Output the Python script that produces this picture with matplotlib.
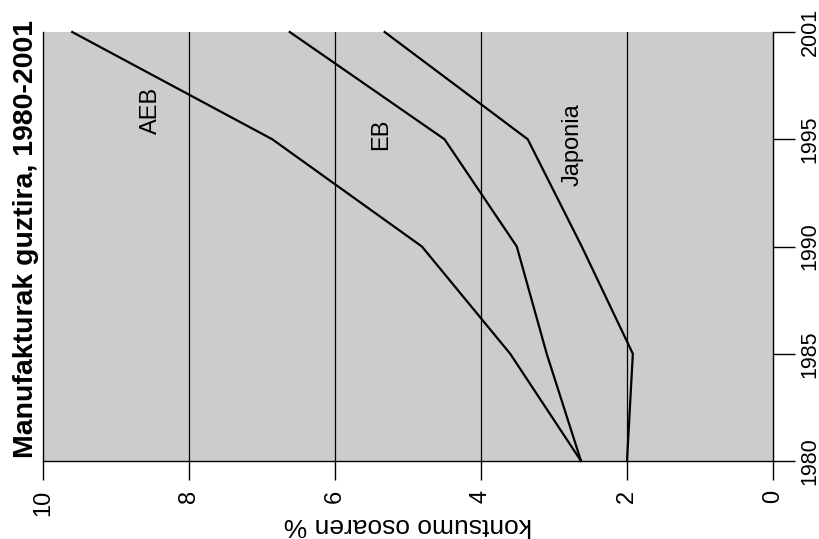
import matplotlib
matplotlib.use("Agg")
import matplotlib.pyplot as plt

plt.rcParams['font.family'] = ['Liberation Sans', 'DejaVu Sans']

years = ["1980", "1985", "1990", "1995", "2001"]
aeb = [2.63, 3.6, 4.81, 6.86, 9.6]
eb = [2.63, 3.1, 3.51, 4.5, 6.62]
japonia = [2.0, 1.92, 2.62, 3.36, 5.32]
pct_ticks = [10, 8, 6, 4, 2, 0]

title = "Manufakturak guztira, 1980-2001"
xlabel = "kontsumo osoaren %"

fig = plt.figure(figsize=(8.2, 5.39), dpi=100)
ax = fig.add_axes([43/820, 78/539, 730/820, 429/539])
ax.set_facecolor('#cccccc')

pos = list(range(len(years)))
for vals in (aeb, eb, japonia):
    ax.plot(vals, pos, color='black', lw=1.6, solid_joinstyle='miter', clip_on=False)

ax.set_xlim(10, 0)
ax.set_ylim(0, len(years) - 1)
ax.set_xticks(pct_ticks)
ax.set_xticklabels([str(t) for t in pct_ticks], rotation=90, fontsize=17)
ax.set_yticks(pos)
ax.set_yticklabels(years, rotation=90, va='center', fontsize=15.5)
ax.yaxis.tick_right()
ax.tick_params(axis='x', length=14, width=1, pad=7, direction='out')
ax.tick_params(axis='y', length=16, width=1, pad=3, direction='out')
for v in [2, 4, 6, 8]:
    ax.axvline(v, color='black', lw=0.9, zorder=1)

ax.spines['top'].set_visible(False)
for s in ('left', 'right', 'bottom'):
    ax.spines[s].set_linewidth(1.0)

fig.text(408/820, 1.5/539, xlabel, rotation=180, ha='center', va='bottom', fontsize=19)

ax.text(8.52, 3.27, "AEB", rotation=90, ha='center', va='center', fontsize=17)
ax.text(5.37, 3.05, "EB", rotation=90, ha='center', va='center', fontsize=17)
ax.text(2.75, 2.95, "Japonia", rotation=90, ha='center', va='center', fontsize=17)

fig.text(26/820, 81/539, title, rotation=90, ha='center', va='bottom',
         fontsize=20.5, fontweight='bold')

fig.savefig("out.png", dpi=100)
